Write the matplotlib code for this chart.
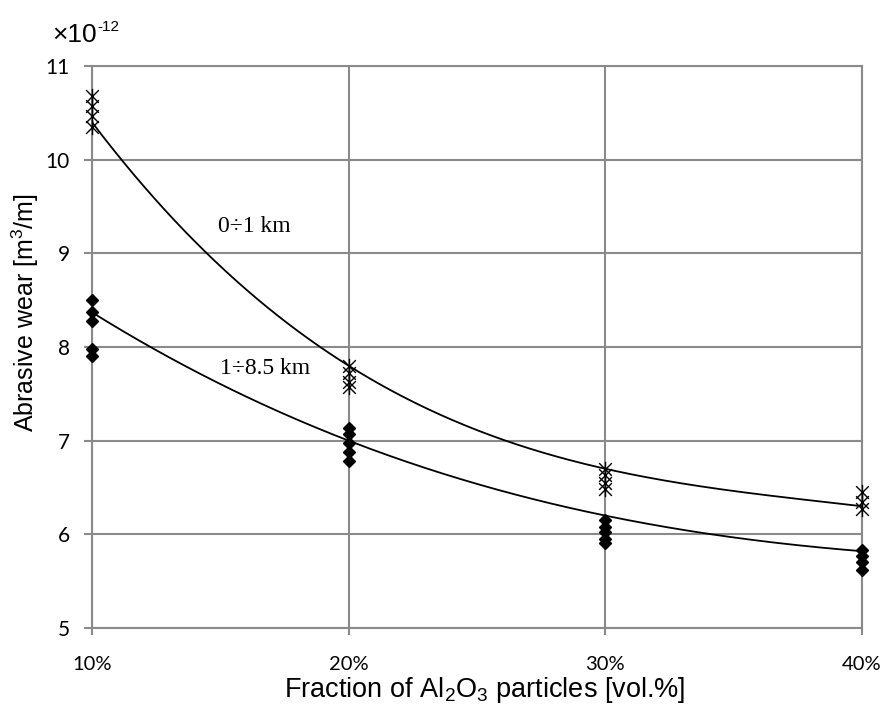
import numpy as np
import matplotlib
matplotlib.use("Agg")
import matplotlib.pyplot as plt
from matplotlib.path import Path

# ---------------- data ----------------
x_ticks = [10, 20, 30, 40]
x_tick_labels = ["10%", "20%", "30%", "40%"]
y_ticks = [5, 6, 7, 8, 9, 10, 11]

# series "0÷1 km" (star markers)
star_x = [10, 10, 10, 10, 20, 20, 20, 20, 30, 30, 30, 30, 40, 40, 40]
star_y = [10.68, 10.57, 10.47, 10.35, 7.80, 7.72, 7.63, 7.57,
          6.70, 6.63, 6.55, 6.48, 6.45, 6.35, 6.27]

# series "1÷8.5 km" (diamond markers)
dia_x = [10, 10, 10, 10, 10, 20, 20, 20, 20, 20, 30, 30, 30, 30, 30, 40, 40, 40, 40]
dia_y = [8.50, 8.37, 8.28, 7.98, 7.90, 7.13, 7.07, 6.98, 6.88, 6.78,
         6.15, 6.08, 6.02, 5.95, 5.91, 5.83, 5.77, 5.70, 5.62]

# trend-line values read at the four fractions
trend_x = [10, 20, 30, 40]
trend_upper = [10.40, 7.80, 6.70, 6.30]
trend_lower = [8.37, 7.00, 6.20, 5.82]

label_upper = "0÷1 km"
label_lower = "1÷8.5 km"

# ---------------- figure ----------------
plt.rcParams["mathtext.default"] = "regular"
fig = plt.figure(figsize=(8.83, 7.05), dpi=100)
ax = fig.add_axes([92 / 883, 1 - 628 / 705, 770 / 883, 562 / 705])

grid_c = "#8a8a8a"
ax.set_xlim(10, 40)
ax.set_ylim(5, 11)
ax.set_xticks(x_ticks)
ax.set_xticklabels(x_tick_labels)
ax.set_yticks(y_ticks)
ax.grid(True, color=grid_c, linewidth=1.5)
for s in ax.spines.values():
    s.set_color(grid_c)
    s.set_linewidth(1.5)
ax.tick_params(axis="both", color=grid_c, width=1.5)
ax.tick_params(axis="y", length=6, pad=10, labelsize=15)
ax.tick_params(axis="x", length=5, pad=15, labelsize=14.5)
for lab in ax.get_xticklabels() + ax.get_yticklabels():
    lab.set_fontfamily("Lato")

# star marker: X plus vertical bar
star_verts = [(-1, -1), (1, 1), (-1, 1), (1, -1), (0, -1.2), (0, 1.2)]
star_codes = [Path.MOVETO, Path.LINETO, Path.MOVETO, Path.LINETO, Path.MOVETO, Path.LINETO]
star_marker = Path(star_verts, star_codes)

# trend curves (cubic polynomial through read values)
xs = np.linspace(10, 40, 300)
cu = np.polyfit(trend_x, trend_upper, 3)
cl = np.polyfit(trend_x, trend_lower, 3)
ax.plot(xs, np.polyval(cu, xs), color="black", linewidth=1.3, zorder=3)
ax.plot(xs, np.polyval(cl, xs), color="black", linewidth=1.3, zorder=3)

ax.plot(star_x, star_y, linestyle="none", marker=star_marker, markersize=11,
        markeredgecolor="black", markerfacecolor="none", markeredgewidth=1.0,
        clip_on=False, zorder=4)
ax.plot(dia_x, dia_y, linestyle="none", marker="D", markersize=6.5,
        color="black", clip_on=False, zorder=4)

ax.text(14.9, 9.29, label_upper, family="Liberation Serif", fontsize=17,
        va="center", ha="left")
ax.text(15.0, 7.77, label_lower, family="Liberation Serif", fontsize=17,
        va="center", ha="left")

fig.text(485 / 883, 1 - 697 / 705, "Fraction of Al$_2$O$_3$ particles [vol.%]",
         family="Liberation Sans", fontsize=19.5, ha="center", va="baseline")
fig.text(25 / 883, 1 - 313 / 705, "Abrasive wear [m$^3$/m]", family="Liberation Sans",
         fontsize=18, rotation=90, ha="center", va="center")

fig.text(52 / 883, 1 - 35 / 705, "×10", family="Liberation Sans",
         fontsize=19, va="center", ha="left")
fig.text(97 / 883, 1 - 27 / 705, "-12", family="Liberation Sans",
         fontsize=11, va="center", ha="left")

fig.savefig("out.png", dpi=100)
